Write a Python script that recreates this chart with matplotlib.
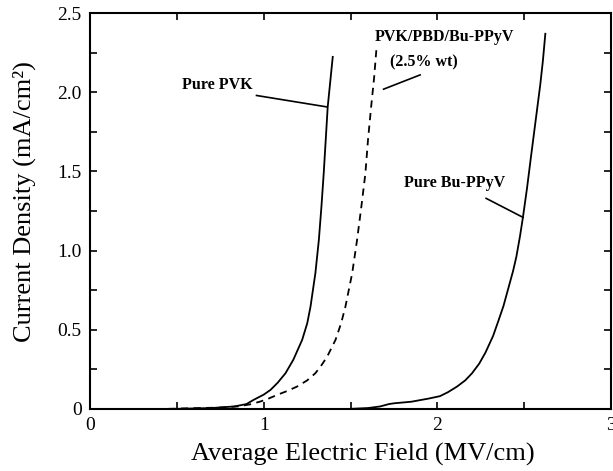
import numpy as np
import matplotlib.pyplot as plt
from matplotlib.ticker import MultipleLocator, FuncFormatter

# Values (field in MV/cm, current density in mA/cm^2)
pvk_x = [0.50, 0.70, 0.83, 0.90, 0.942, 1.00, 1.039, 1.08, 1.125, 1.17,
         1.221, 1.25, 1.269, 1.297, 1.317, 1.332, 1.345, 1.368, 1.397]
pvk_y = [0.0, 0.005, 0.015, 0.03, 0.057, 0.09, 0.12, 0.165, 0.225, 0.31,
         0.436, 0.54, 0.646, 0.857, 1.067, 1.28, 1.488, 1.908, 2.224]

blend_x = [0.45, 0.60, 0.75, 0.85, 0.92, 0.98, 1.03, 1.077, 1.14, 1.192,
           1.25, 1.297, 1.335, 1.365, 1.413, 1.445, 1.47, 1.509, 1.537,
           1.562, 1.585, 1.60, 1.618, 1.635, 1.648]
blend_y = [0.0, 0.004, 0.008, 0.015, 0.028, 0.046, 0.066, 0.088, 0.115, 0.141,
           0.18, 0.225, 0.28, 0.33, 0.436, 0.54, 0.646, 0.857, 1.067,
           1.28, 1.488, 1.70, 1.908, 2.09, 2.266]

ppyv_x = [1.50, 1.60, 1.67, 1.72, 1.75, 1.80, 1.85, 1.90, 1.95, 2.014, 2.06,
          2.113, 2.16, 2.199, 2.24, 2.276, 2.32, 2.352, 2.38, 2.41, 2.435,
          2.454, 2.475, 2.492, 2.515, 2.538, 2.565, 2.592, 2.607, 2.621]
ppyv_y = [0.0, 0.005, 0.015, 0.03, 0.035, 0.04, 0.045, 0.055, 0.065, 0.08, 0.105,
          0.141, 0.18, 0.225, 0.285, 0.355, 0.46, 0.56, 0.65, 0.77, 0.87,
          0.96, 1.09, 1.21, 1.39, 1.59, 1.82, 2.05, 2.20, 2.37]

plt.rcParams['font.family'] = ['Liberation Serif', 'DejaVu Serif']

fig = plt.figure(figsize=(6.13, 4.71), dpi=100)
ax = fig.add_axes([0.147, 0.132, 0.85, 0.840])

ax.plot(pvk_x, pvk_y, color='black', lw=1.3)
ax.plot(blend_x, blend_y, color='black', lw=1.3, ls=(0, (4, 3)))
ax.plot(ppyv_x, ppyv_y, color='black', lw=1.3)

# labels with leader lines
ax.text(0.53, 2.045, 'Pure PVK', fontsize=11.5, fontweight='bold', va='center')
ax.plot([0.958, 1.362], [1.98, 1.908], color='black', lw=1.2)

ax.text(2.04, 2.35, 'PVK/PBD/Bu-PPyV', fontsize=11.5, fontweight='bold',
        ha='center', va='center')
ax.text(1.92, 2.19, '(2.5% wt)', fontsize=11.5, fontweight='bold',
        ha='center', va='center')
ax.plot([1.90, 1.69], [2.11, 2.02], color='black', lw=1.2)

ax.text(2.10, 1.425, 'Pure Bu-PPyV', fontsize=11.5, fontweight='bold',
        ha='center', va='center')
ax.plot([2.28, 2.492], [1.33, 1.21], color='black', lw=1.2)

ax.set_xlim(0, 3)
ax.set_ylim(0, 2.5)
ax.xaxis.set_major_locator(MultipleLocator(1))
ax.xaxis.set_minor_locator(MultipleLocator(0.5))
ax.yaxis.set_major_locator(MultipleLocator(0.5))
ax.yaxis.set_minor_locator(MultipleLocator(0.25))
ax.yaxis.set_major_formatter(FuncFormatter(lambda v, p: '0' if abs(v) < 1e-9 else f'{v:.1f}'))
ax.tick_params(which='both', direction='in', top=True, right=True,
               length=5, width=1.2, labelsize=14, pad=6)
for s in ax.spines.values():
    s.set_linewidth(1.5)

ax.set_xlabel('Average Electric Field (MV/cm)', fontsize=19)
ax.set_ylabel('Current Density (mA/cm²)', fontsize=19)
ax.xaxis.set_label_coords(0.524, -0.085)
ax.yaxis.set_label_coords(-0.103, 0.525)

fig.savefig('out.png', dpi=100)
